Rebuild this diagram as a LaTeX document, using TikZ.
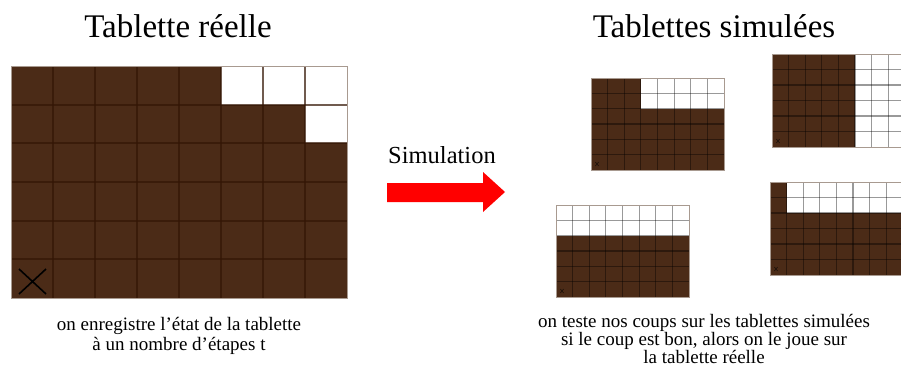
\documentclass[tikz,border=0pt]{standalone}
\usepackage{fontspec}
\setmainfont{Liberation Serif}
\definecolor{choco}{HTML}{4B2B17}
\definecolor{chocoline}{HTML}{341605}
\definecolor{rimcol}{HTML}{A89A90}
\definecolor{arrowred}{HTML}{FF0000}
\tikzset{
  titletext/.style={font=\fontsize{33}{36}\selectfont, anchor=base},
  captext/.style={font=\fontsize{19}{20}\selectfont, align=center, anchor=north, inner sep=0pt},
  captextB/.style={font=\fontsize{19}{17.8}\selectfont, align=center, anchor=north, inner sep=0pt},
  simtext/.style={font=\fontsize{24.5}{27}\selectfont, anchor=base},
}
% #1 x0, #2 y0, #3 cell w, #4 cell h, #5 white cells c/r, #6 grid line width, #7 grid style
\newcommand{\tabl}[7]{%
  \fill[choco] (#1,#2) rectangle ++({8*#3},{6*#4});
  \foreach \c/\r in {#5} {\fill[white] ({#1+(\c-1)*#3},{#2+(\r-1)*#4}) rectangle ++(#3,#4);}
  \foreach \i in {1,...,7} {\draw[line width=#6, #7] ({#1+\i*#3},#2) -- ++(0,{6*#4});}
  \foreach \j in {1,...,5} {\draw[line width=#6, #7] (#1,{#2+\j*#4}) -- ++({8*#3},0);}
  \draw[rimcol, line width=0.8pt] (#1,#2) rectangle ++({8*#3},{6*#4});
}
\begin{document}
\begin{tikzpicture}[x=1pt,y=-1pt]
\useasboundingbox (0,0) rectangle (901,375);
\clip (0,0) rectangle (901,375);
% titles
\node[titletext] (t1) at (178,37) {Tablette réelle};
\node[titletext] (t2) at (714,37) {Tablettes simulées};
% real tablet
\tabl{11}{66}{42}{38.67}{6/1,7/1,8/1,8/2}{1.8pt}{chocoline, opacity=0.7}
\draw[black, line width=1.6pt] (19,269) -- (46,294) (19,294) -- (46,269);
% simulated tablets
\tabl{591}{78}{16.625}{15.33}{4/1,5/1,6/1,7/1,8/1,4/2,5/2,6/2,7/2,8/2}{1.2pt}{black, opacity=0.4}
\tabl{772}{54}{16.6}{15.5}{6/1,7/1,8/1,6/2,7/2,8/2,6/3,7/3,8/3,6/4,7/4,8/4,6/5,7/5,8/5,6/6,7/6,8/6}{1.2pt}{black, opacity=0.4}
\tabl{556}{205}{16.625}{15.33}{1/1,2/1,3/1,4/1,5/1,6/1,7/1,8/1,1/2,2/2,3/2,4/2,5/2,6/2,7/2,8/2}{1.2pt}{black, opacity=0.4}
\tabl{770}{182}{16.6}{15.5}{2/1,3/1,4/1,5/1,6/1,7/1,8/1,2/2,3/2,4/2,5/2,6/2,7/2,8/2}{1.2pt}{black, opacity=0.4}
% small crosses
\foreach \px/\py in {597/164, 778/141, 562/291, 776/269} {
  \draw[black, line width=0.5pt, opacity=0.7] (\px-1.6,\py-2) -- (\px+1.6,\py+2) (\px-1.6,\py+2) -- (\px+1.6,\py-2);
}
% arrow
\node[simtext] (sim) at (442,163) {Simulation};
\fill[arrowred] (387,183) -- (483,183) -- (483,172) -- (505,192) -- (483,212) -- (483,202) -- (387,202) -- cycle;
% captions
\node[captext] (c1) at (179,317) {on enregistre l'état de la tablette\\à un nombre d'étapes t};
\node[captextB] (c2) at (704,314) {on teste nos coups sur les tablettes simulées\\si le coup est bon, alors on le joue sur\\la tablette réelle};
\end{tikzpicture}
\end{document}
